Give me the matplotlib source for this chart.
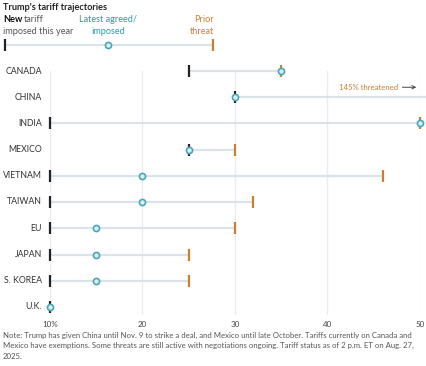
import matplotlib.pyplot as plt
import numpy as np

plt.rcParams['font.family'] = ['Lato', 'DejaVu Sans']

countries = ["CANADA", "CHINA", "INDIA", "MEXICO", "VIETNAM", "TAIWAN", "EU", "JAPAN", "S. KOREA", "U.K."]
new_tariff = [25, 30, 10, 25, 10, 10, 10, 10, 10, 10]
latest = [35, 30, 50, 25, 20, 20, 15, 15, 15, 10]
prior = [35, 145, 50, 30, 46, 32, 30, 25, 25, None]
xticks = [10, 20, 30, 40, 50]
xticklabels = ["10%", "20", "30", "40", "50"]

BLACK = "#222222"
TEAL = "#4aa6b8"
TEAL_FILL = "#d7eef2"
TEAL_TEXT = "#2e9aab"
ORANGE = "#c98032"
LINE = "#dbe3ea"
GRID = "#ececec"

W, H = 427, 366
fig = plt.figure(figsize=(W / 100, H / 100), dpi=100)

def fx(px):
    return px / W

def fy(py):
    return 1 - py / H

# main axes
ax = fig.add_axes([fx(50), fy(315), fx(370), (315 - 71) / H])
ax.set_xlim(10, 50)
ax.set_ylim(9.3, 0)
for s in ax.spines.values():
    s.set_visible(False)
ax.set_yticks([])
ax.set_xticks(xticks)
ax.set_xticklabels(xticklabels, fontsize=5.8, color="#444444")
ax.tick_params(axis="x", length=0, pad=4)
for t in xticks:
    ax.axvline(t, color=GRID, lw=1, zorder=0)

for i, c in enumerate(countries):
    p = prior[i]
    end = max(latest[i], p if p is not None else latest[i])
    end = min(end, 51.2)
    ax.plot([new_tariff[i], end], [i, i], color=LINE, lw=1.6, zorder=1, clip_on=False,
            solid_capstyle="butt")
    if p is not None and p <= 50:
        ax.plot(p, i, marker="|", color=ORANGE, ms=8, mew=1.6, zorder=2, clip_on=False)
    ax.plot(new_tariff[i], i, marker="|", color=BLACK, ms=8, mew=1.6, zorder=2, clip_on=False)
    ax.plot(latest[i], i, marker="o", ms=4.4, mfc=TEAL_FILL, mec=TEAL, mew=1.2, zorder=3,
            clip_on=False)
    fig.text(fx(42), fy(71 + i * 26.2), c, ha="right", va="center", fontsize=6.3, color="#333333")

# China annotation
ax.text(47.6, 0.62, "145% threatened", ha="right", va="center", fontsize=5.6, color=ORANGE)
ax.annotate("", xy=(49.9, 0.62), xytext=(47.8, 0.62),
            arrowprops=dict(arrowstyle="->", color="#444444", lw=0.7, mutation_scale=6))

# title and legend
fig.text(fx(3), fy(7), "Trump's tariff trajectories", fontsize=6.6, fontweight="bold",
         color="#222222", va="center")
fig.text(fx(3), fy(20), "New", fontsize=6.6, fontweight="bold", color="#111111", va="center")
fig.text(fx(23.5), fy(20), "tariff", fontsize=6.6, color="#555555", va="center")
fig.text(fx(3), fy(32), "imposed this year", fontsize=6.6, color="#555555", va="center")
fig.text(fx(108), fy(20), "Latest agreed/", fontsize=6.6, color=TEAL_TEXT, va="center", ha="center")
fig.text(fx(108), fy(32), "imposed", fontsize=6.6, color=TEAL_TEXT, va="center", ha="center")
fig.text(fx(214), fy(20), "Prior", fontsize=6.6, color=ORANGE, va="center", ha="right")
fig.text(fx(214), fy(32), "threat", fontsize=6.6, color=ORANGE, va="center", ha="right")

lg = fig.add_axes([0, 0, 1, 1], facecolor="none")
lg.set_xlim(0, W)
lg.set_ylim(H, 0)
lg.axis("off")
lg.plot([5, 213], [45, 45], color=LINE, lw=1.6, zorder=1, solid_capstyle="butt")
lg.plot(5, 45, marker="|", color=BLACK, ms=8, mew=1.6, zorder=2)
lg.plot(213, 45, marker="|", color=ORANGE, ms=8, mew=1.6, zorder=2)
lg.plot(108, 45, marker="o", ms=4.4, mfc=TEAL_FILL, mec=TEAL, mew=1.2, zorder=3)

note = ("Note: Trump has given China until Nov. 9 to strike a deal, and Mexico until late October. Tariffs currently on Canada and\n"
        "Mexico have exemptions. Some threats are still active with negotiations ongoing. Tariff status as of 2 p.m. ET on Aug. 27,\n"
        "2025.")
fig.text(fx(3), fy(332), note, fontsize=5.6, color="#555555", va="top", linespacing=1.55)

fig.savefig("out.png", dpi=100)
